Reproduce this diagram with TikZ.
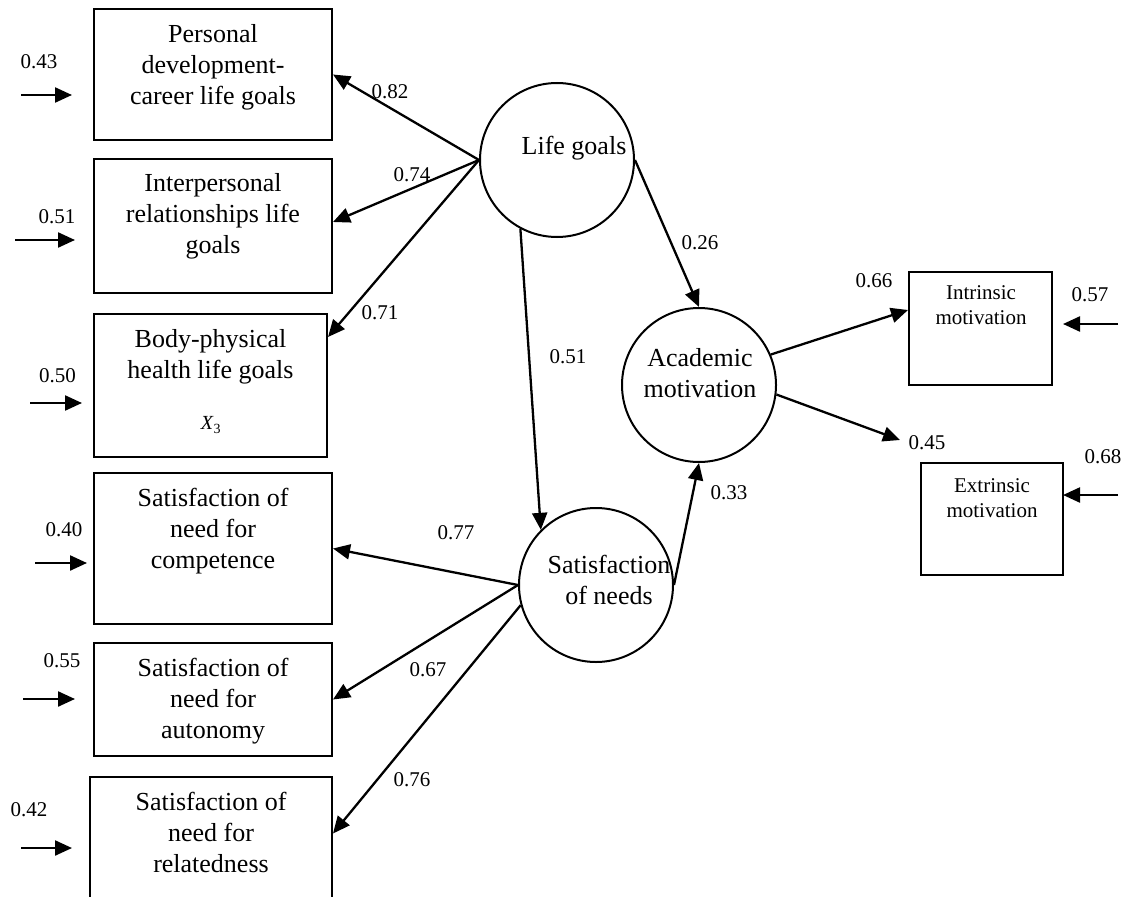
\documentclass[tikz,border=0pt]{standalone}
\usepackage{fontspec}
\setmainfont{Liberation Serif}
\usetikzlibrary{arrows.meta}
\begin{document}
\begin{tikzpicture}[x=1pt,y=-1pt,
  box/.style={draw, line width=2pt, inner sep=0pt},
  circ/.style={draw, circle, line width=2pt, minimum size=154pt, inner sep=0pt},
  big/.style={font=\fontsize{26}{31}\selectfont, align=center, inner sep=0pt},
  small/.style={font=\fontsize{21}{25}\selectfont, align=center, inner sep=0pt},
  num/.style={font=\fontsize{21}{25}\selectfont, inner sep=0pt},
  arr/.style={line width=2.3pt, -{Triangle[length=17pt,width=15pt]}}]
\useasboundingbox (0,0) rectangle (1123,896);
% boxes
\node[box, minimum width=238pt, minimum height=131pt] (b1) at (213,74.5) {};
\node[box, minimum width=238pt, minimum height=134pt] (b2) at (213,226) {};
\node[box, minimum width=233pt, minimum height=143pt] (b3) at (210.5,385.5) {};
\node[box, minimum width=238pt, minimum height=151pt] (b4) at (213,548.5) {};
\node[box, minimum width=238pt, minimum height=113pt] (b5) at (213,699.5) {};
\node[box, minimum width=242pt, minimum height=123pt] (b6) at (211,838.5) {};
\node[box, minimum width=143pt, minimum height=113pt] (bi) at (980.5,328.5) {};
\node[box, minimum width=142pt, minimum height=112pt] (be) at (992,519) {};
% box texts
\node[big] (t1) at (213,67) {Personal\\development-\\career life goals};
\node[big] (t2) at (213,216) {Interpersonal\\relationships life\\goals};
\node[big] (t3) at (210.5,357) {Body-physical\\health life goals};
\node[font=\fontsize{20}{24}\selectfont, inner sep=0pt] (x3) at (211,425) {\textit{X}\textsubscript{3}};
\node[big] (t4) at (213,531) {Satisfaction of\\need for\\competence};
\node[big] (t5) at (213,701) {Satisfaction of\\need for\\autonomy};
\node[big] (t6) at (211,832) {Satisfaction of\\need for\\relatedness};
\node[small] (ti) at (981,305) {Intrinsic\\motivation};
\node[small] (te) at (992,498) {Extrinsic\\motivation};
% circles
\node[circ] (LG) at (557,160) {};
\node[circ] (AM) at (699,385) {};
\node[circ] (SN) at (596,585) {};
\node[big] (tLG) at (574,148) {Life goals};
\node[big] (tAM) at (700,373) {Academic\\motivation};
\node[big] (tSN) at (609,580) {Satisfaction\\of needs};
% structural arrows
\draw[arr] (LG.west) -- (b1.east);
\draw[arr] (LG.west) -- ([yshift=4pt]b2.east);
\draw[arr] (LG.west) -- ([yshift=-24pt]b3.north east);
\draw[arr] (LG.east) -- (AM.north);
\draw[arr] (LG.242) -- (SN.135);
\draw[arr] (SN.east) -- (AM.south);
\draw[arr] (SN.west) -- (b4.east);
\draw[arr] (SN.west) -- (b5.east);
\draw[arr] (SN.195) -- ([yshift=5pt]b6.east);
\draw[arr] (AM.23) -- ([yshift=18.5pt]bi.west);
\coordinate (eT) at (900,440);
\draw[arr] (AM.-7) -- (eT);
% error arrows
\coordinate (e1s) at (21,95);   \coordinate (e1t) at (72,95);
\coordinate (e2s) at (15,240);  \coordinate (e2t) at (75,240);
\coordinate (e3s) at (30,403);  \coordinate (e3t) at (82,403);
\coordinate (e4s) at (35,563);  \coordinate (e4t) at (87,563);
\coordinate (e5s) at (23,699);  \coordinate (e5t) at (75,699);
\coordinate (e6s) at (21,848);  \coordinate (e6t) at (72,848);
\coordinate (e7s) at (1118,324); \coordinate (e7t) at (1063,324);
\coordinate (e8s) at (1118,495); \coordinate (e8t) at (1063,495);
\foreach \i in {1,...,8} \draw[arr] (e\i s) -- (e\i t);
% numbers
\node[num] (n1) at (39,62) {0.43};
\node[num] (n2) at (57,217) {0.51};
\node[num] (n3) at (57.5,376) {0.50};
\node[num] (n4) at (64,530) {0.40};
\node[num] (n5) at (62,661) {0.55};
\node[num] (n6) at (29,810) {0.42};
\node[num] (l1) at (390,92) {0.82};
\node[num] (l2) at (412,175) {0.74};
\node[num] (l3) at (380,313) {0.71};
\node[num] (l4) at (700,243) {0.26};
\node[num] (l5) at (568,357) {0.51};
\node[num] (l6) at (729,493) {0.33};
\node[num] (l7) at (456,533) {0.77};
\node[num] (l8) at (428,670) {0.67};
\node[num] (l9) at (412,780) {0.76};
\node[num] (l10) at (874,281) {0.66};
\node[num] (l11) at (927,443) {0.45};
\node[num] (l12) at (1090,295) {0.57};
\node[num] (l13) at (1103,457) {0.68};
\end{tikzpicture}
\end{document}
